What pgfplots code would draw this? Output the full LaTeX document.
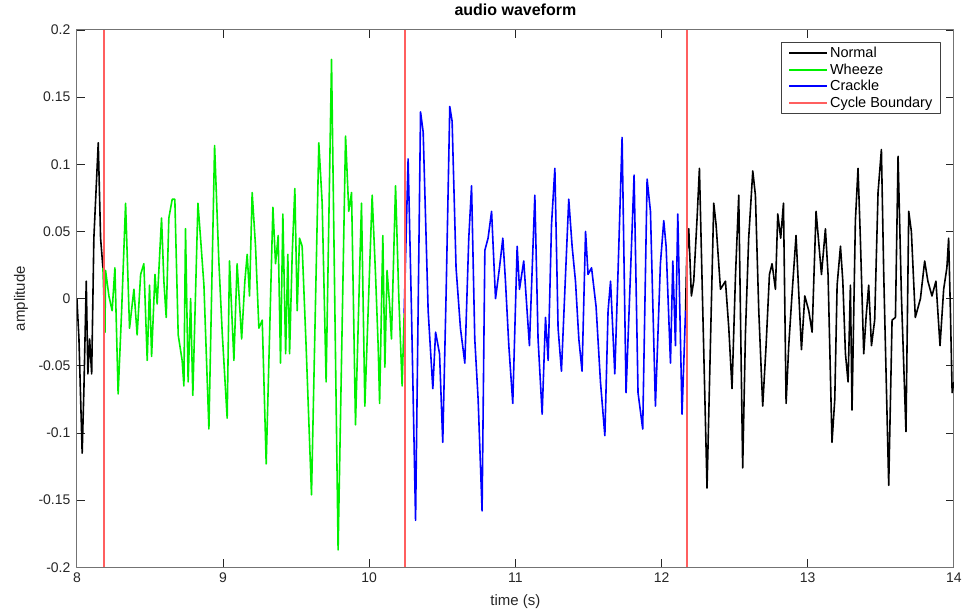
\documentclass[border=0pt]{standalone}
\usepackage{pgfplots}
\pgfplotsset{compat=1.18}
\usepackage{fontspec}
\setmainfont{Liberation Sans}
\definecolor{wgreen}{RGB}{0,240,0}
\definecolor{wblue}{RGB}{0,0,255}
\definecolor{bred}{RGB}{255,95,95}
\begin{document}
\begin{tikzpicture}
\begin{axis}[
  width=878pt, height=538pt, scale only axis,
  xmin=8, xmax=14, ymin=-0.2, ymax=0.2,
  xtick={8,9,10,11,12,13,14},
  ytick={-0.2,-0.15,-0.1,-0.05,0,0.05,0.1,0.15,0.2},
  yticklabels={-0.2,-0.15,-0.1,-0.05,0,0.05,0.1,0.15,0.2},
  xticklabels={8,9,10,11,12,13,14},
  tick align=inside, tick pos=both,
  major tick length=8pt,
  tick style={black!85, line width=0.9pt},
  axis line style={black!55, line width=1pt},
  ticklabel style={font=\fontsize{14}{16}\selectfont, text=black!85},
  xticklabel style={yshift=-2pt},
  yticklabel style={xshift=-3pt},
  xlabel={time (s)}, ylabel={amplitude},
  label style={font=\fontsize{15}{17}\selectfont, text=black!85},
  xlabel style={at={(axis description cs:0.5,-0.0632)}, anchor=center},
  ylabel style={at={(axis description cs:-0.0638,0.5)}, anchor=center},
  title={\textbf{audio waveform}},
  title style={font=\fontsize{16}{18}\selectfont, at={(axis description cs:0.5,1.026)}, anchor=center},
  legend style={draw=black!75, line width=0.9pt, font=\fontsize{14.5}{16}\selectfont, at={(0.985,0.9777)}, anchor=north east, row sep=0.5pt, inner xsep=6pt, inner ysep=3pt},
  legend cell align=left,
  legend image code/.code={\draw[#1, line width=2.2pt] (0pt,0pt) -- (38pt,0pt);},
  line join=round,
]
\addplot[draw=black, line width=1.6pt] coordinates {
(8.0,0) (8.014,-0.03) (8.036,-0.115) (8.048,-0.067) (8.064,0.013) (8.075,-0.056) (8.087,-0.03) (8.101,-0.056) (8.116,0.045) (8.146,0.116) (8.162,0.045) (8.178,0.023)
};
\addlegendentry{Normal}
\addplot[draw=wgreen, line width=1.6pt] coordinates {
(8.178,0.023) (8.192,-0.025) (8.196,0.021) (8.219,0.002) (8.241,-0.009) (8.260,0.023) (8.282,-0.071) (8.306,-0.009) (8.333,0.071) (8.360,-0.022) (8.390,0.007) (8.412,-0.027) (8.436,0.018) (8.458,0.026) (8.481,-0.046) (8.497,0.01) (8.511,-0.043) (8.534,0.018) (8.549,-0.004) (8.579,0.06) (8.595,0.013) (8.611,-0.014) (8.629,0.06) (8.652,0.074) (8.670,0.074) (8.693,-0.027) (8.720,-0.046) (8.732,-0.065) (8.743,0.052) (8.761,-0.062) (8.778,0) (8.793,-0.072) (8.828,0.071) (8.846,0.045) (8.869,0.01) (8.903,-0.097) (8.942,0.114) (8.971,0.028) (8.994,-0.025) (9.028,-0.089) (9.044,0.028) (9.074,-0.046) (9.096,0.026) (9.127,-0.03) (9.149,0.013) (9.165,0.033) (9.181,0.002) (9.199,0.079) (9.222,0.039) (9.245,-0.022) (9.268,-0.016) (9.295,-0.123) (9.341,0.068) (9.359,0.026) (9.377,0.047) (9.393,-0.048) (9.409,0.063) (9.428,-0.041) (9.443,0.033) (9.455,-0.041) (9.473,0.033) (9.491,0.082) (9.507,-0.009) (9.523,0.045) (9.541,0.039) (9.568,-0.035) (9.605,-0.146) (9.655,0.116) (9.678,0.071) (9.705,-0.062) (9.742,0.178) (9.787,-0.187) (9.838,0.121) (9.860,0.065) (9.879,0.079) (9.906,-0.094) (9.947,0.071) (9.970,-0.08) (10.020,0.077) (10.043,0.018) (10.061,-0.035) (10.071,-0.078) (10.093,0.047) (10.107,-0.051) (10.122,0.021) (10.139,-0.004) (10.152,-0.03) (10.180,0.084) (10.202,0.002) (10.225,-0.065) (10.239,-0.011)
};
\addlegendentry{Wheeze}
\addplot[draw=wblue, line width=1.6pt] coordinates {
(10.239,-0.011) (10.252,0.045) (10.266,0.104) (10.289,-0.009) (10.317,-0.165) (10.351,0.139) (10.369,0.124) (10.403,-0.009) (10.435,-0.067) (10.454,-0.025) (10.481,-0.041) (10.503,-0.107) (10.526,0.004) (10.551,0.143) (10.567,0.132) (10.594,0.023) (10.624,-0.022) (10.654,-0.048) (10.681,0.045) (10.700,0.084) (10.722,-0.03) (10.745,-0.075) (10.772,-0.158) (10.791,0.036) (10.813,0.045) (10.837,0.065) (10.864,0) (10.891,0.023) (10.914,0.045) (10.932,0.013) (10.955,-0.035) (10.982,-0.078) (11.012,0.039) (11.028,0.007) (11.057,0.028) (11.073,0.002) (11.096,-0.035) (11.133,0.077) (11.155,-0.03) (11.183,-0.086) (11.206,-0.014) (11.224,-0.046) (11.247,0.055) (11.270,0.097) (11.292,-0.022) (11.315,-0.054) (11.343,0.018) (11.365,0.074) (11.388,0.039) (11.411,0.013) (11.434,-0.03) (11.456,-0.054) (11.480,0.05) (11.497,0.018) (11.521,0.023) (11.552,-0.006) (11.582,-0.062) (11.612,-0.102) (11.634,-0.009) (11.651,0.013) (11.680,-0.056) (11.703,0.023) (11.730,0.12) (11.757,-0.07) (11.787,0.018) (11.812,0.092) (11.839,-0.07) (11.871,-0.097) (11.901,0.089) (11.924,0.065) (11.958,-0.08) (11.992,0.026) (12.015,0.058) (12.031,0.039) (12.061,-0.048) (12.077,0.028) (12.095,-0.035) (12.111,0.063) (12.140,-0.086) (12.164,-0.009)
};
\addlegendentry{Crackle}
\addplot[draw=bred, line width=1.7pt] coordinates {(8.185,-0.2) (8.185,0.2)};
\addlegendentry{Cycle Boundary}
\addplot[draw=bred, line width=1.7pt, forget plot] coordinates {(10.244,-0.2) (10.244,0.2)};
\addplot[draw=black, line width=1.6pt, forget plot] coordinates {
(12.164,-0.009) (12.172,0.03) (12.186,0.052) (12.204,0.002) (12.220,0.013) (12.243,0.06) (12.259,0.097) (12.282,-0.009) (12.311,-0.141) (12.334,-0.035) (12.357,0.071) (12.373,0.055) (12.403,0.007) (12.437,0.013) (12.460,-0.022) (12.482,-0.067) (12.506,0.018) (12.528,0.077) (12.555,-0.126) (12.574,-0.025) (12.596,0.045) (12.624,0.095) (12.642,0.077) (12.665,-0.009) (12.692,-0.08) (12.715,-0.035) (12.738,0.018) (12.756,0.026) (12.779,0.007) (12.795,0.063) (12.815,0.045) (12.834,0.071) (12.852,-0.078) (12.870,-0.035) (12.893,0.004) (12.920,0.047) (12.957,-0.038) (12.980,0.002) (13.007,-0.009) (13.030,-0.025) (13.057,0.065) (13.094,0.018) (13.121,0.052) (13.139,0.018) (13.166,-0.107) (13.185,-0.075) (13.201,0.01) (13.224,0.039) (13.240,0.013) (13.258,-0.041) (13.276,-0.062) (13.292,0.01) (13.303,-0.083) (13.326,0.058) (13.344,0.097) (13.360,0.045) (13.383,-0.041) (13.399,-0.014) (13.417,0.01) (13.436,-0.035) (13.458,-0.016) (13.481,0.079) (13.504,0.111) (13.520,0.018) (13.554,-0.139) (13.577,-0.016) (13.600,-0.014) (13.618,0.106) (13.641,0.002) (13.672,-0.099) (13.691,0.065) (13.709,0.05) (13.736,-0.014) (13.771,0) (13.800,0.028) (13.822,0.013) (13.850,0.002) (13.877,0.013) (13.905,-0.035) (13.930,0.007) (13.952,0.023) (13.964,0.045) (13.976,-0.009) (13.988,-0.07) (14.0,-0.062)
};
\addplot[draw=bred, line width=1.7pt, forget plot] coordinates {(12.172,-0.2) (12.172,0.2)};
\end{axis}
\path (current axis.south west) ++(-77pt,-42pt);
\path (current axis.north east) ++(10pt,30pt);
\end{tikzpicture}
\end{document}
